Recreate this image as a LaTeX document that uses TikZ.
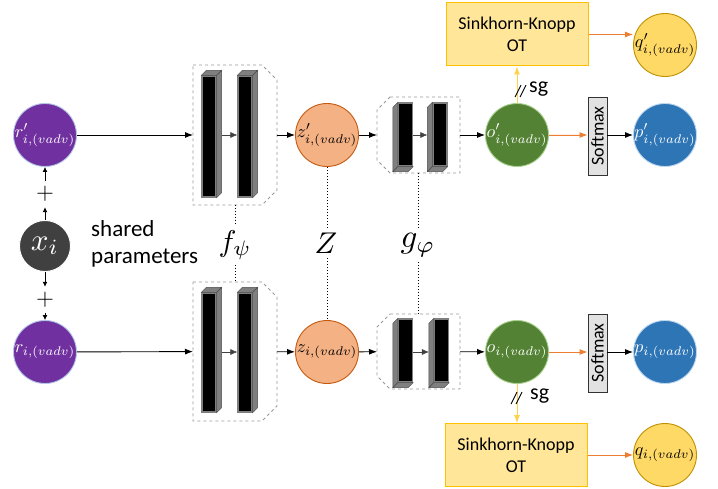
\documentclass[tikz,border=0pt]{standalone}
\usepackage{fontspec}
\setmainfont{Carlito}
\usetikzlibrary{arrows.meta,calc}
\definecolor{purp}{HTML}{7030A0}
\definecolor{cborder}{HTML}{B4C7E7}
\definecolor{xgray}{HTML}{404040}
\definecolor{zfill}{HTML}{F4B183}
\definecolor{zdraw}{HTML}{C55A11}
\definecolor{ofill}{HTML}{548235}
\definecolor{odraw}{HTML}{A9D18E}
\definecolor{pfill}{HTML}{2E75B6}
\definecolor{pdraw}{HTML}{BDD7EE}
\definecolor{qfill}{HTML}{FFD966}
\definecolor{qdraw}{HTML}{BF9000}
\definecolor{skfill}{HTML}{FFE699}
\definecolor{skdraw}{HTML}{FFC000}
\definecolor{orangeA}{HTML}{ED7D31}
\definecolor{yellowA}{HTML}{FFD24D}
\definecolor{smfill}{HTML}{E2E2E2}
\definecolor{facegray}{HTML}{7F7F7F}
\newcommand\ml[1]{\makebox[0pt][c]{\scalebox{1.8}{$#1$}}}
\newcommand\bl[2]{\scalebox{#1}{$#2$}}
\newcommand\fbarfaces[1]{%
  \filldraw[face] (#1.north west) -- ++(5,-5) -- ($(#1.north east)+(5,-5)$) -- (#1.north east) -- cycle;
  \filldraw[face] (#1.north east) -- ++(5,-5) -- ($(#1.south east)+(5,-5)$) -- (#1.south east) -- cycle;}
\newcommand\gbarfaces[1]{%
  \filldraw[face] (#1.north west) -- ++(-5,5) -- ($(#1.south west)+(-5,5)$) -- (#1.south west) -- cycle;
  \filldraw[face] (#1.south west) -- ++(-5,5) -- ($(#1.south east)+(-5,5)$) -- (#1.south east) -- cycle;}
\newcommand\fchamfer[1]{%
  \draw[dbox] (#1.north west) -- ($(#1.north east)+(-15,0)$) -- ($(#1.north east)+(0,15)$)
   -- ($(#1.south east)+(0,-15)$) -- ($(#1.south east)+(-15,0)$) -- (#1.south west) -- cycle;}
\newcommand\gchamfer[1]{%
  \draw[dbox] ($(#1.north west)+(13,0)$) -- (#1.north east) -- (#1.south east)
   -- ($(#1.south west)+(13,0)$) -- ($(#1.south west)+(0,-13)$) -- ($(#1.north west)+(0,13)$) -- cycle;}
\newcommand\slashes[1]{%
  \draw[line width=0.9pt] ($(#1)+(-6,6)$) -- ($(#1)+(0,-6)$);
  \draw[line width=0.9pt] ($(#1)+(-1,6)$) -- ($(#1)+(5,-6)$);}
\begin{document}
\begin{tikzpicture}[x=1pt,y=-1pt,
  circ/.style={circle, minimum size=63pt, inner sep=0pt, line width=0.9pt},
  arr/.style={-{Latex[length=8pt,width=6pt]}, line width=0.9pt},
  sarr/.style={-{Latex[length=5pt,width=5pt]}, line width=0.9pt},
  thinarr/.style={-{Latex[length=7pt,width=6pt]}, line width=0.5pt, draw=black!75},
  oarr/.style={arr, draw=orangeA, fill=orangeA},
  yarr/.style={arr, draw=yellowA, fill=yellowA},
  dbox/.style={draw=black!40, dashed, line width=0.8pt},
  hidden/.style={inner sep=0pt, outer sep=0pt},
  barfront/.style={draw=facegray, fill=black, line width=1.3pt, inner sep=0pt, minimum width=14pt},
  face/.style={fill=facegray, draw=black!70, line width=0.4pt},
  dots/.style={dotted, line width=1pt},
  skbox/.style={draw=skdraw, fill=skfill, line width=1pt, minimum width=142pt, minimum height=63pt, align=center, font=\fontsize{18}{22}\selectfont},
  smbox/.style={draw=black!80, fill=smfill, line width=0.9pt, minimum width=19pt, minimum height=78pt, inner sep=0pt},
  biglab/.style={inner sep=5pt},
  plus/.style={inner sep=0pt, minimum height=26pt}
]
\useasboundingbox (0,0) rectangle (718,489);

% ---------- input nodes ----------
\node[circ, fill=purp, draw=cborder, text=white] (rp) at (45,135) {\ml{r'_{i,(vadv)}}};
\node[circ, fill=xgray, draw=white, minimum size=51pt, text=white] (x) at (45,246) {\bl{3.1}{x_i}};
\node[circ, fill=purp, draw=cborder, text=white] (r) at (45,352) {\ml{r_{i,(vadv)}}};
\node[plus] (plus1) at (45,194) {\bl{2.3}{+}};
\node[plus] (plus2) at (45,300) {\bl{2.3}{+}};
\draw[sarr] (x) -- (plus1);
\draw[sarr] (plus1) -- (rp);
\draw[sarr] (x) -- (plus2);
\draw[sarr] (plus2) -- (r);
\node[anchor=west, align=left, inner sep=0pt, font=\fontsize{23}{27}\selectfont] (shared) at (91,244) {shared\\parameters};

% ---------- f boxes ----------
\node[hidden, minimum width=84pt, minimum height=140pt] (fb1) at (235,135) {};
\node[hidden, minimum width=84pt, minimum height=139pt] (fb2) at (235,351.5) {};
\fchamfer{fb1}
\fchamfer{fb2}
\node[barfront, minimum height=121pt] (fa1) at (209,136.5) {};
\node[barfront, minimum height=121pt] (fa2) at (245,136.5) {};
\node[barfront, minimum height=119pt] (fc1) at (209,352.5) {};
\node[barfront, minimum height=119pt] (fc2) at (245,352.5) {};
\fbarfaces{fa1}\fbarfaces{fa2}\fbarfaces{fc1}\fbarfaces{fc2}
\draw[thinarr] ($(fa1.east)+(5,-1.5)$) -- ($(fa2.west)+(0,-1.5)$);
\draw[thinarr] ($(fc1.east)+(5,-0.5)$) -- ($(fc2.west)+(0,-0.5)$);

% ---------- z nodes ----------
\node[circ, fill=zfill, draw=zdraw] (zp) at (327,135) {\ml{z'_{i,(vadv)}}};
\node[circ, fill=zfill, draw=zdraw] (z) at (327,352) {\ml{z_{i,(vadv)}}};

% ---------- g boxes ----------
\node[hidden, minimum width=83pt, minimum height=76pt] (gb1) at (418.5,135) {};
\node[hidden, minimum width=83pt, minimum height=75pt] (gb2) at (418.5,351.5) {};
\gchamfer{gb1}
\gchamfer{gb2}
\node[barfront, minimum height=63pt] (ga1) at (405.5,134.5) {};
\node[barfront, minimum height=63pt] (ga2) at (440,134.5) {};
\node[barfront, minimum height=63pt] (gc1) at (405.5,350.5) {};
\node[barfront, minimum height=63pt] (gc2) at (441.5,350.5) {};
\gbarfaces{ga1}\gbarfaces{ga2}\gbarfaces{gc1}\gbarfaces{gc2}
\draw[thinarr] (ga1.east |- 0,135) -- ($(ga2.west)+(-5,0.5)$);
\draw[thinarr] (gc1.east |- 0,352) -- ($(gc2.west)+(-5,1.5)$);

% ---------- o, softmax, p, q ----------
\node[circ, fill=ofill, draw=odraw, text=white] (op) at (517,135) {\ml{o'_{i,(vadv)}}};
\node[circ, fill=ofill, draw=odraw, text=white] (o) at (517,352) {\ml{o_{i,(vadv)}}};
\node[smbox] (sm1) at (597.5,136) {\rotatebox{90}{\fontsize{18}{18}\selectfont Softmax}};
\node[smbox] (sm2) at (597.5,353) {\rotatebox{90}{\fontsize{18}{18}\selectfont Softmax}};
\node[circ, fill=pfill, draw=pdraw, text=white] (pp) at (665,135) {\ml{p'_{i,(vadv)}}};
\node[circ, fill=pfill, draw=pdraw, text=white] (p) at (665,352) {\ml{p_{i,(vadv)}}};
\node[skbox] (sk1) at (517,34.5) {Sinkhorn-Knopp\\OT};
\node[skbox] (sk2) at (516,455) {Sinkhorn-Knopp\\OT};
\node[circ, fill=qfill, draw=qdraw] (qp) at (665,45) {\ml{q'_{i,(vadv)}}};
\node[circ, fill=qfill, draw=qdraw] (q) at (665,455) {\ml{q_{i,(vadv)}}};

% ---------- main connectors ----------
\draw[arr] (rp) -- (fb1);
\draw[arr] (fb1) -- (zp);
\draw[arr] (zp) -- (gb1);
\draw[arr] (gb1) -- (op);
\draw[oarr] (op) -- (sm1.west |- op);
\draw[arr] (sm1.east |- pp) -- (pp);
\draw[yarr] (op) -- (sk1);
\draw[oarr] (sk1.east) -- (sk1.east -| qp.west);

\draw[arr] (r) -- (fb2);
\draw[arr] (fb2) -- (z);
\draw[arr] (z) -- (gb2);
\draw[arr] (gb2) -- (o);
\draw[oarr] (o) -- (sm2.west |- o);
\draw[arr] (sm2.east |- p) -- (p);
\draw[yarr] (o.south) -- (o.south |- sk2.north);
\draw[oarr] (sk2) -- (q);

% ---------- stop-gradient marks ----------
\coordinate (sga) at (521,91);
\coordinate (sgb) at (517,398);
\slashes{sga}
\slashes{sgb}
\node[anchor=west, inner sep=0pt, font=\fontsize{22}{22}\selectfont] (sg1) at (529,89) {sg};
\node[anchor=west, inner sep=0pt, font=\fontsize{22}{22}\selectfont] (sg2) at (530,396) {sg};

% ---------- shared parameter labels ----------
\node[biglab] (flab) at (235,245) {\bl{3}{f_\psi}};
\node[biglab] (zlab) at (326,243) {\bl{3}{Z}};
\node[biglab] (glab) at (418,245) {\bl{3.3}{g_\varphi}};
\draw[dots] (fb1.south) -- (flab.north -| fb1.south);
\draw[dots] (flab.south -| fb2.north) -- (fb2.north);
\draw[dots] (zp.south) -- (zlab.north -| zp.south);
\draw[dots] (zlab.south -| z.north) -- (z.north);
\draw[dots] (gb1.south) -- (glab.north -| gb1.south);
\draw[dots] (glab.south -| gb2.north) -- (gb2.north);
\end{tikzpicture}
\end{document}
